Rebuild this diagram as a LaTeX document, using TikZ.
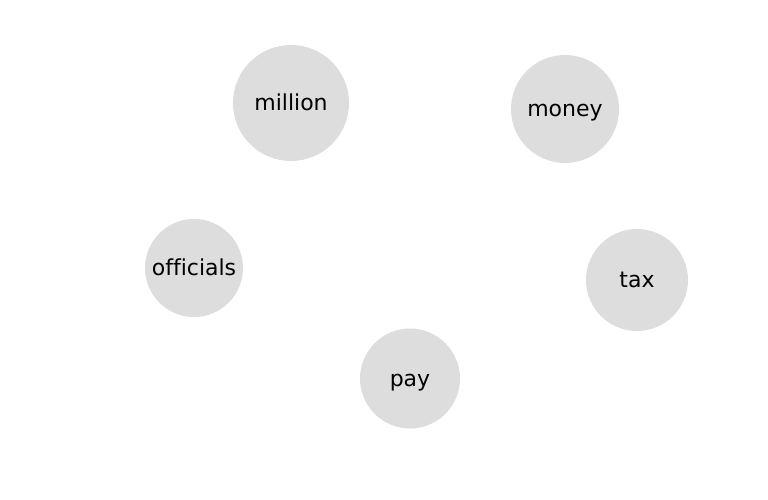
\documentclass[tikz,border=0pt]{standalone}
\usepackage{fontspec}
\setmainfont[Ligatures=NoCommon]{DejaVu Sans}
\definecolor{nodegrey}{HTML}{DDDDDD}
\begin{document}
\begin{tikzpicture}[x=1pt,y=-1pt,
  word/.style={circle, fill=nodegrey, draw=none, inner sep=0pt,
    font=\fontsize{22}{26}\selectfont, text=black,
    text height=16.5pt, text depth=1.5pt}]
\useasboundingbox (0,0) rectangle (768,500);
\fill[white] (0,0) rectangle (768,500);
\node[word, minimum size=116pt] (million) at (291,103) {million};
\node[word, minimum size=108pt] (money) at (565,109) {money};
\node[word, minimum size=98pt] (officials) at (194,268) {officials};
\node[word, minimum size=102pt] (tax) at (637,280) {tax};
\node[word, minimum size=100pt] (pay) at (410,378.5) {pay};
\end{tikzpicture}
\end{document}
